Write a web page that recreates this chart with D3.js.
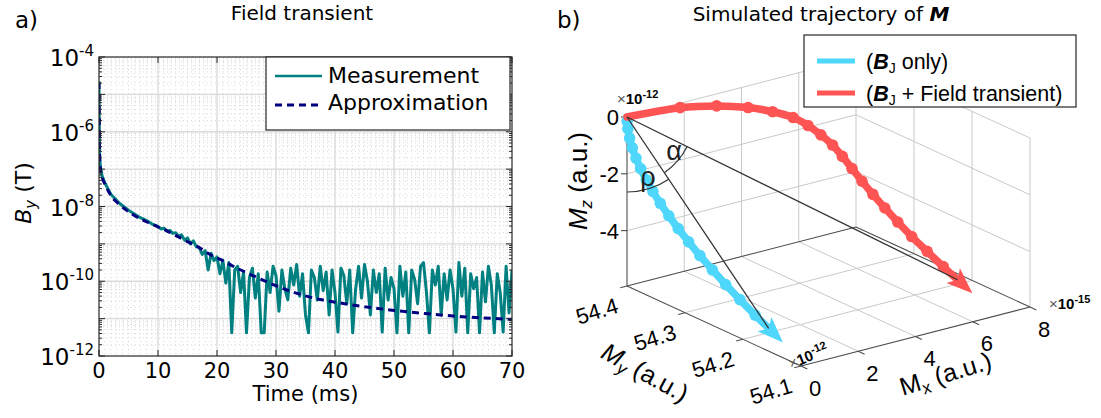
<!DOCTYPE html>
<html>
<head>
<meta charset="utf-8">
<script src="https://cdn.jsdelivr.net/npm/d3@7"></script>
<style>
  body { margin: 0; background: #fff; }
  svg { display: block; }
</style>
</head>
<body>
<div id="fig"></div>
<script>
// ---------- panel a: field transient ----------
var approxT   = [0, 0.03, 0.07, 0.12, 0.25, 0.5, 1, 2, 3.5, 5.8, 8.6, 11.5, 14.5, 17, 19, 21, 23, 25, 27.5, 30, 32.5, 35, 37.5, 40, 45, 50, 55, 60, 65, 70];
var approxExp = [-4.67, -5.5, -6.3, -6.75, -7.0, -7.2, -7.4, -7.7, -7.95, -8.22, -8.45, -8.65, -8.9, -9.1, -9.3, -9.45, -9.62, -9.77, -9.95, -10.12, -10.27, -10.39, -10.49, -10.56, -10.68, -10.78, -10.86, -10.93, -10.98, -11.02];

var measEarlyT   = [0, 0.03, 0.07, 0.12, 0.25, 0.5, 1, 2, 3.5, 5, 6, 7, 8, 9, 10, 10.5, 11, 11.5, 12, 12.5, 13, 13.5, 14, 14.5, 15, 15.5, 16, 16.5];
var measEarlyExp = [-4.65, -5.4, -6.2, -6.7, -6.95, -7.17, -7.37, -7.67, -7.92, -8.1, -8.2, -8.3, -8.37, -8.47, -8.53, -8.6, -8.58, -8.66, -8.64, -8.72, -8.7, -8.8, -8.76, -8.9, -8.84, -9.0, -8.92, -9.08];
// noisy part, sampled every 0.5 ms from 17 ms
var measNoiseStart = 17, measNoiseStep = 0.5;
var measNoiseExp = [
  -9.1, -9.28, -9.18, -9.7, -9.25, -9.45, -9.35, -9.8, -9.45, -10.05,
  -9.5, -11.38, -9.7, -9.6, -10.3, -9.75, -11.38, -9.9, -9.65, -10.45,
  -9.8, -11.38, -11.38, -9.75, -10.3, -9.6, -9.85, -10.8, -9.7, -10.2,
  -10.5, -9.65, -10.1, -9.55, -10.4, -9.8, -10.9, -11.38, -9.7, -9.9,
  -10.5, -9.6, -10.25, -9.75, -10.9, -9.7, -10.3, -11.36, -9.65, -9.85,
  -10.6, -9.7, -11.38, -10.2, -9.6, -10.45, -9.55, -10.0, -10.9, -9.7,
  -10.3, -9.8, -11.36, -9.65, -10.5, -9.9, -10.2, -11.38, -9.6, -10.4,
  -9.75, -11.38, -9.7, -9.95, -10.6, -9.6, -9.5, -10.3, -11.38, -9.7,
  -10.1, -9.6, -10.9, -9.8, -10.5, -9.7, -10.2, -11.36, -9.5, -10.4,
  -9.65, -11.38, -9.8, -10.2, -9.9, -11.38, -9.75, -10.55, -9.6, -10.1,
  -11.38, -9.8, -10.3, -11.36, -9.6, -10.85, -9.7
];
var timeTicks = [0, 10, 20, 30, 40, 50, 60, 70];
var decades = [-12, -11, -10, -9, -8, -7, -6, -5, -4];
var labelDecades = [-4, -6, -8, -10, -12];

// ---------- panel b: trajectory of M ----------
var trajMz = [0, -0.15, -0.4, -0.7, -1.0, -1.3, -1.6, -1.9, -2.2, -2.5, -2.8, -3.1, -3.4, -3.7, -4.0, -4.3, -4.6, -4.9, -5.15];
var trajMy = [54.4, 54.3998, 54.3985, 54.3955, 54.3908, 54.3845, 54.3765, 54.3668, 54.3555, 54.3426, 54.3279, 54.3117, 54.2938, 54.2742, 54.2529, 54.2299, 54.2053, 54.179, 54.1557];
var trajMxOnly = [0, 0, 0, 0, 0, 0, 0, 0, 0, 0, 0, 0, 0, 0, 0, 0, 0, 0, 0];
var trajMxTransient = [0, 1.85, 3.1, 4.14, 4.9, 5.49, 5.85, 6.1, 6.28, 6.36, 6.4, 6.42, 6.44, 6.46, 6.48, 6.5, 6.54, 6.57, 6.6];
var mxTicks = [0, 2, 4, 6, 8];
var myTicks = [54.4, 54.3, 54.2, 54.1];
var mzTicks = [0, -2, -4];

var W = 1101, H = 418;
var axisColor = "#262626";
var svg = d3.select("#fig").append("svg")
  .attr("width", W)
  .attr("height", H)
  .style("font-family", "DejaVu Sans");

// ================= PANEL A =================
var pa = {left: 99, right: 512, top: 57, bottom: 356};
var x = d3.scaleLinear().domain([0, 70]).range([pa.left, pa.right]);
var y = d3.scaleLog().domain([1e-12, 1e-4]).range([pa.bottom, pa.top]);

var ga = svg.append("g");

// minor grid
var minorY = [];
decades.slice(0, -1).forEach(function(k) {
  for (var m = 2; m <= 9; m++) minorY.push(m * Math.pow(10, k));
});
var minorX = d3.range(1, 70).filter(function(t) { return t % 10 !== 0; });
ga.selectAll("line.minory").data(minorY).enter().append("line")
  .attr("x1", pa.left).attr("x2", pa.right)
  .attr("y1", d => y(d)).attr("y2", d => y(d))
  .attr("stroke", "#d4d4d4").attr("stroke-width", 0.9).attr("stroke-dasharray", "1,3");
ga.selectAll("line.minorx").data(minorX).enter().append("line")
  .attr("x1", d => x(d)).attr("x2", d => x(d))
  .attr("y1", pa.top).attr("y2", pa.bottom)
  .attr("stroke", "#d4d4d4").attr("stroke-width", 0.9).attr("stroke-dasharray", "1,3");
// major grid
ga.selectAll("line.majory").data(decades.slice(1, -1)).enter().append("line")
  .attr("x1", pa.left).attr("x2", pa.right)
  .attr("y1", d => y(Math.pow(10, d))).attr("y2", d => y(Math.pow(10, d)))
  .attr("stroke", "#d9d9d9").attr("stroke-width", 1.3);
ga.selectAll("line.majorx").data(timeTicks.slice(1, -1)).enter().append("line")
  .attr("x1", d => x(d)).attr("x2", d => x(d))
  .attr("y1", pa.top).attr("y2", pa.bottom)
  .attr("stroke", "#d9d9d9").attr("stroke-width", 1.3);

svg.append("clipPath").attr("id", "clipA").append("rect")
  .attr("x", pa.left).attr("y", pa.top)
  .attr("width", pa.right - pa.left).attr("height", pa.bottom - pa.top);

var measData = measEarlyT.map((t, i) => [t, Math.pow(10, measEarlyExp[i])])
  .concat(measNoiseExp.map((e, i) => [measNoiseStart + i * measNoiseStep, Math.pow(10, e)]));
var approxData = approxT.map((t, i) => [t, Math.pow(10, approxExp[i])]);

var lineA = d3.line().x(d => x(d[0])).y(d => y(d[1]));
var dataG = ga.append("g").attr("clip-path", "url(#clipA)");
dataG.append("path")
  .attr("d", lineA(measData))
  .attr("fill", "none").attr("stroke", "#008080").attr("stroke-width", 3)
  .attr("stroke-linejoin", "round");
dataG.append("path")
  .attr("d", lineA.curve(d3.curveMonotoneX)(approxData))
  .attr("fill", "none").attr("stroke", "#000080").attr("stroke-width", 3)
  .attr("stroke-dasharray", "7,5");

// frame and ticks
ga.append("rect")
  .attr("x", pa.left).attr("y", pa.top)
  .attr("width", pa.right - pa.left).attr("height", pa.bottom - pa.top)
  .attr("fill", "none").attr("stroke", axisColor).attr("stroke-width", 1.2);
var tickG = ga.append("g").attr("stroke", axisColor).attr("stroke-width", 1);
decades.forEach(function(k) {
  var yy = y(Math.pow(10, k));
  tickG.append("line").attr("x1", pa.left).attr("x2", pa.left + 6).attr("y1", yy).attr("y2", yy);
  tickG.append("line").attr("x1", pa.right).attr("x2", pa.right - 6).attr("y1", yy).attr("y2", yy);
});
minorY.forEach(function(v) {
  var yy = y(v);
  tickG.append("line").attr("x1", pa.left).attr("x2", pa.left + 3).attr("y1", yy).attr("y2", yy);
  tickG.append("line").attr("x1", pa.right).attr("x2", pa.right - 3).attr("y1", yy).attr("y2", yy);
});
timeTicks.forEach(function(t) {
  tickG.append("line").attr("x1", x(t)).attr("x2", x(t)).attr("y1", pa.bottom).attr("y2", pa.bottom - 6);
  tickG.append("line").attr("x1", x(t)).attr("x2", x(t)).attr("y1", pa.top).attr("y2", pa.top + 6);
});

// tick labels
ga.selectAll("text.xt").data(timeTicks).enter().append("text")
  .attr("x", d => x(d)).attr("y", 378)
  .attr("text-anchor", "middle").attr("font-size", 21)
  .text(d => d);
labelDecades.forEach(function(k) {
  var t = ga.append("text")
    .attr("x", 94).attr("y", y(Math.pow(10, k)) + 9)
    .attr("text-anchor", "end").attr("font-size", 23);
  t.append("tspan").text("10");
  t.append("tspan").attr("dy", -10).attr("font-size", 15).text(String(k));
});

ga.append("text").attr("x", (pa.left + pa.right) / 2).attr("y", 401)
  .attr("text-anchor", "middle").attr("font-size", 21).text("Time (ms)");
var yl = ga.append("text")
  .attr("transform", "translate(31," + 193 + ") rotate(-90)")
  .attr("text-anchor", "middle").attr("font-size", 22);
yl.append("tspan").attr("font-style", "italic").text("B");
yl.append("tspan").attr("font-style", "italic").attr("font-size", 15).attr("dy", 5).text("y");
yl.append("tspan").attr("dy", -5).text(" (T)");

ga.append("text").attr("x", 302).attr("y", 20)
  .attr("text-anchor", "middle").attr("font-size", 20).text("Field transient");
ga.append("text").attr("x", 15).attr("y", 28).attr("font-size", 23).text("a)");

// legend a
var lgA = ga.append("g");
lgA.append("rect").attr("x", 266).attr("y", 57).attr("width", 244).attr("height", 73)
  .attr("fill", "#fff").attr("stroke", axisColor).attr("stroke-width", 1.2);
lgA.append("line").attr("x1", 275).attr("x2", 322).attr("y1", 76).attr("y2", 76)
  .attr("stroke", "#008080").attr("stroke-width", 2.6);
lgA.append("line").attr("x1", 275).attr("x2", 322).attr("y1", 105).attr("y2", 105)
  .attr("stroke", "#000080").attr("stroke-width", 3).attr("stroke-dasharray", "7,5");
lgA.append("text").attr("x", 328).attr("y", 83).attr("font-size", 22).text("Measurement");
lgA.append("text").attr("x", 328).attr("y", 110).attr("font-size", 22).text("Approximation");

// ================= PANEL B =================
var gb = svg.append("g").style("font-family", "Liberation Sans");
var O3 = [627, 286], EX = [229, -59], EY = [174, 80], EZ = [0, -169];
var sx = d3.scaleLinear().domain([0, 8]).range([0, 1]);
var sy = d3.scaleLinear().domain([54.4, 54.1]).range([0, 1]);
var sz = d3.scaleLinear().domain([-5.95, 0]).range([0, 1]);
var zMin = -5.95, zMax = 0;
function proj(mx, my, mz) {
  var a = sx(mx), b = sy(my), c = sz(mz);
  return [O3[0] + a * EX[0] + b * EY[0] + c * EZ[0],
          O3[1] + a * EX[1] + b * EY[1] + c * EZ[1]];
}
function seg(g, p, q, color, w) {
  g.append("line").attr("x1", p[0]).attr("y1", p[1]).attr("x2", q[0]).attr("y2", q[1])
    .attr("stroke", color).attr("stroke-width", w);
}
var gridC = "#c9c9c9";
var grid = gb.append("g");
// floor
[54.3, 54.2].forEach(my => seg(grid, proj(0, my, zMin), proj(8, my, zMin), gridC, 1));
[2, 4, 6].forEach(mx => seg(grid, proj(mx, 54.4, zMin), proj(mx, 54.1, zMin), gridC, 1));
// back wall (My = 54.4)
[2, 4, 6, 8].forEach(mx => seg(grid, proj(mx, 54.4, zMin), proj(mx, 54.4, zMax), gridC, 1));
mzTicks.forEach(mz => seg(grid, proj(0, 54.4, mz), proj(8, 54.4, mz), gridC, 1));
// side wall (Mx = 8)
[54.3, 54.2, 54.1].forEach(my => seg(grid, proj(8, my, zMin), proj(8, my, zMax), gridC, 1));
mzTicks.forEach(mz => seg(grid, proj(8, 54.4, mz), proj(8, 54.1, mz), gridC, 1));
// dark axes / floor edges
var axC = "#4d4d4d";
seg(grid, proj(0, 54.4, zMin), proj(0, 54.4, zMax), axC, 1.1);
seg(grid, proj(0, 54.4, zMin), proj(0, 54.1, zMin), axC, 1.1);
seg(grid, proj(0, 54.1, zMin), proj(8, 54.1, zMin), axC, 1.1);
seg(grid, proj(0, 54.4, zMin), proj(8, 54.4, zMin), axC, 1.1);
seg(grid, proj(8, 54.4, zMin), proj(8, 54.1, zMin), axC, 1.1);

// ticks
function unit(v) { var l = Math.hypot(v[0], v[1]); return [v[0] / l, v[1] / l]; }
var ex = unit(EX), ey = unit(EY);
mzTicks.forEach(function(mz) {
  var p = proj(0, 54.4, mz);
  seg(grid, p, [p[0] - 6, p[1]], axC, 1.1);
  gb.append("text").attr("x", p[0] - 8).attr("y", p[1] + 8)
    .attr("text-anchor", "end").attr("font-size", 22).text(mz === 0 ? "0" : "-" + Math.abs(mz));
});
myTicks.forEach(function(my) {
  var p = proj(0, my, zMin);
  seg(grid, p, [p[0] - 7 * ex[0], p[1] - 7 * ex[1]], axC, 1.1);
  gb.append("text")
    .attr("transform", "translate(" + (p[0] - 30) + "," + (p[1] + 25) + ") rotate(-17)")
    .attr("text-anchor", "middle").attr("dy", "0.35em").attr("font-size", 22)
    .text(d3.format(".1f")(my));
});
mxTicks.forEach(function(mx) {
  var p = proj(mx, 54.1, zMin);
  seg(grid, p, [p[0] + 7 * ey[0], p[1] + 7 * ey[1]], axC, 1.1);
  gb.append("text").attr("x", p[0] + 14).attr("y", p[1] + 22)
    .attr("text-anchor", "middle").attr("dy", "0.35em").attr("font-size", 22).text(mx);
});

// exponent labels
function expLabel(g, xx, yy, exp, rot) {
  var t = g.append("text").attr("font-size", 15)
    .attr("transform", "translate(" + xx + "," + yy + ")" + (rot ? " rotate(" + rot + ")" : ""));
  t.append("tspan").attr("fill", "#555").text("\u00d7");
  t.append("tspan").attr("font-weight", "bold").text("10");
  t.append("tspan").attr("font-weight", "bold").attr("font-size", 11).attr("dy", -6).text(exp);
}
expLabel(gb, 617, 104, "-12", 0);
expLabel(gb, 1049, 309, "-15", 0);
expLabel(gb, 791, 369, "-12", -22);

// axis labels
var mzL = gb.append("text").attr("transform", "translate(587,181) rotate(-90)")
  .attr("text-anchor", "middle").attr("font-size", 26);
mzL.append("tspan").attr("font-style", "italic").text("M");
mzL.append("tspan").attr("font-style", "italic").attr("font-size", 17).attr("dy", 5).text("z");
mzL.append("tspan").attr("dy", -5).text(" (a.u.)");
var myL = gb.append("text").attr("transform", "translate(641,380) rotate(29)")
  .attr("text-anchor", "middle").attr("font-size", 25);
myL.append("tspan").attr("font-style", "italic").text("M");
myL.append("tspan").attr("font-style", "italic").attr("font-size", 17).attr("dy", 5).text("y");
myL.append("tspan").attr("dy", -5).text(" (a.u.)");
var mxL = gb.append("text").attr("transform", "translate(948,382) rotate(-17)")
  .attr("text-anchor", "middle").attr("font-size", 25);
mxL.append("tspan").text("M");
mxL.append("tspan").attr("font-size", 17).attr("dy", 5).text("x");
mxL.append("tspan").attr("dy", -5).text(" (a.u.)");

// trajectories
var blueC = "#4fd6fb", redC = "#ff5454";
var lineB = d3.line().curve(d3.curveCatmullRom);
function drawTraj(mxArr, color) {
  var pts = trajMz.map((mz, i) => proj(mxArr[i], trajMy[i], mz));
  var g = gb.append("g");
  g.append("path").attr("d", lineB(pts)).attr("fill", "none")
    .attr("stroke", color).attr("stroke-width", 7.5).attr("stroke-linecap", "round");
  g.selectAll("circle").data(pts.slice(1, -1)).enter().append("circle")
    .attr("cx", d => d[0]).attr("cy", d => d[1]).attr("r", 5.8).attr("fill", color);
  var e = pts[pts.length - 1], pr = pts[pts.length - 2];
  var d = unit([e[0] - pr[0], e[1] - pr[1]]), n = [-d[1], d[0]];
  var tip = [e[0] + 20 * d[0], e[1] + 20 * d[1]];
  var b1 = [e[0] - 6 * d[0] + 10 * n[0], e[1] - 6 * d[1] + 10 * n[1]];
  var b2 = [e[0] - 6 * d[0] - 10 * n[0], e[1] - 6 * d[1] - 10 * n[1]];
  g.append("path").attr("d", "M" + tip + "L" + b1 + "L" + e + "L" + b2 + "Z").attr("fill", color);
  return pts;
}
var ptsB = drawTraj(trajMxOnly, blueC);
var ptsR = drawTraj(trajMxTransient, redC);

// displacement vectors and angles
var o = ptsB[0], endB = ptsB[ptsB.length - 1], endR = ptsR[ptsR.length - 1];
var vecG = gb.append("g");
seg(vecG, o, endB, "#333", 1.3);
seg(vecG, o, endR, "#333", 1.3);
var angDown = Math.PI / 2;
var angB = Math.atan2(endB[1] - o[1], endB[0] - o[0]);
var angR = Math.atan2(endR[1] - o[1], endR[0] - o[0]);
var arcRho = d3.path();
arcRho.arc(o[0], o[1], 75, angB, angDown, false);
vecG.append("path").attr("d", arcRho.toString()).attr("fill", "none").attr("stroke", "#333").attr("stroke-width", 1.2);
var arcAlpha = d3.path();
arcAlpha.arc(o[0], o[1], 67, angR, angB, false);
vecG.append("path").attr("d", arcAlpha.toString()).attr("fill", "none").attr("stroke", "#333").attr("stroke-width", 1.2);
gb.append("text").attr("x", 648).attr("y", 186).attr("text-anchor", "middle").attr("font-size", 27).attr("fill", "#222").text("\u03c1");
gb.append("text").attr("x", 674).attr("y", 160).attr("text-anchor", "middle").attr("font-size", 27).attr("fill", "#222").text("\u03b1");

// legend b
var lgB = gb.append("g");
lgB.append("rect").attr("x", 804).attr("y", 35).attr("width", 272).attr("height", 72)
  .attr("fill", "#fff").attr("stroke", axisColor).attr("stroke-width", 1.2);
[[61, blueC, " only)"], [93, redC, " + Field transient)"]].forEach(function(r) {
  lgB.append("line").attr("x1", 817).attr("x2", 855).attr("y1", r[0]).attr("y2", r[0])
    .attr("stroke", r[1]).attr("stroke-width", 5);
  var t = lgB.append("text").attr("x", 866).attr("y", r[0] + 7.5).attr("font-size", 21.5);
  t.append("tspan").text("(");
  t.append("tspan").attr("font-weight", "bold").attr("font-style", "italic").text("B");
  t.append("tspan").attr("font-size", 14).attr("dy", 4).text("J");
  t.append("tspan").attr("dy", -4).text(r[2]);
});

// titles b
var tb = svg.append("text").attr("x", 821).attr("y", 21)
  .attr("text-anchor", "middle").attr("font-size", 20);
tb.append("tspan").text("Simulated trajectory of ");
tb.append("tspan").attr("font-weight", "bold").attr("font-style", "italic").text("M");
svg.append("text").attr("x", 557).attr("y", 28).attr("font-size", 23).text("b)");
</script>
</body>
</html>
